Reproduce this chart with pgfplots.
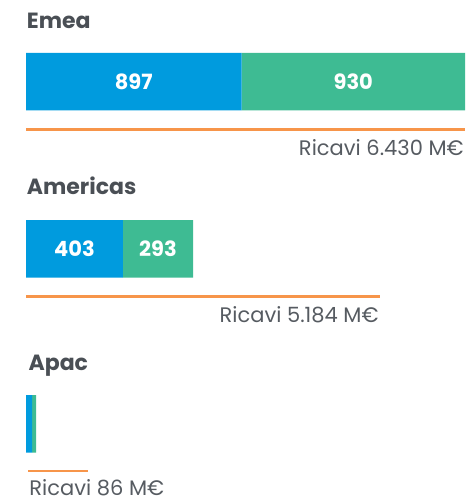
\documentclass[border=0pt]{standalone}
\usepackage{pgfplots}
\pgfplotsset{compat=1.18}
\usepackage{fontspec}
\setmainfont{Poppins}
\definecolor{BarBlue}{HTML}{009BDE}
\definecolor{BarGreen}{HTML}{3EBB93}
\definecolor{LineOrange}{HTML}{F7954A}
\definecolor{TitleGray}{HTML}{4A4F55}
\definecolor{TextGray}{HTML}{565B61}
\newcommand\lbl{\fontsize{21bp}{25bp}\selectfont}
\newcommand\ttl{\fontsize{22bp}{26bp}\selectfont\bfseries}

\begin{document}
\begin{tikzpicture}
  \useasboundingbox (0,0) rectangle (466bp,500bp);
  % stacked bars, scaled to the largest total (Emea)
  \begin{axis}[
    at={(26bp,0bp)}, anchor=south west,
    scale only axis, width=439bp, height=500bp,
    xmin=0, xmax=1827, ymin=0, ymax=500,
    y dir=reverse,
    axis lines=none, clip=false,
    xbar stacked, bar width=57.5,
    point meta=explicit symbolic,
    nodes near coords,
    % stacked bar labels already sit in the middle of their segment
    every node near coord/.append style={
      anchor=center, font=\lbl\bfseries, text=white},
  ]
    \addplot[fill=BarBlue, draw=none]
      coordinates {(897,81.7)[897] (403,248.8)[403] (25,423.8)[]};
    \addplot[fill=BarGreen, draw=none]
      coordinates {(930,81.7)[930] (293,248.8)[293] (17,423.8)[]};
    \node[anchor=base west, inner sep=0, font=\ttl, text=TitleGray]
      at (axis cs:3,28.3) {Emea};
    \node[anchor=base west, inner sep=0, font=\ttl, text=TitleGray]
      at (axis cs:3,194.3) {Americas};
    \node[anchor=base west, inner sep=0, font=\ttl, text=TitleGray]
      at (axis cs:10,370) {Apac};
  \end{axis}
  % revenue lines, scaled to the largest revenue (Emea)
  \begin{axis}[
    at={(26bp,0bp)}, anchor=south west,
    scale only axis, width=439bp, height=500bp,
    xmin=0, xmax=6430, ymin=0, ymax=500,
    y dir=reverse,
    axis lines=none, clip=false,
  ]
    \addplot[LineOrange, line width=2.7bp] coordinates {(0,129.7) (6430,129.7)}
      node[pos=1, anchor=base east, inner sep=0, yshift=-25.6bp, font=\lbl, text=TextGray] {Ricavi 6.430 M€};
    \addplot[LineOrange, line width=2.7bp] coordinates {(0,296.2) (5184,296.2)}
      node[pos=1, anchor=base east, inner sep=0, yshift=-26.5bp, font=\lbl, text=TextGray] {Ricavi 5.184 M€};
    \addplot[LineOrange, line width=2.7bp] coordinates {(30,471) (908,471)}
      node[pos=0, anchor=base west, inner sep=0, text depth=0pt, yshift=-24.5bp, font=\lbl, text=TextGray] {Ricavi 86 M€};
  \end{axis}
\end{tikzpicture}
\end{document}
